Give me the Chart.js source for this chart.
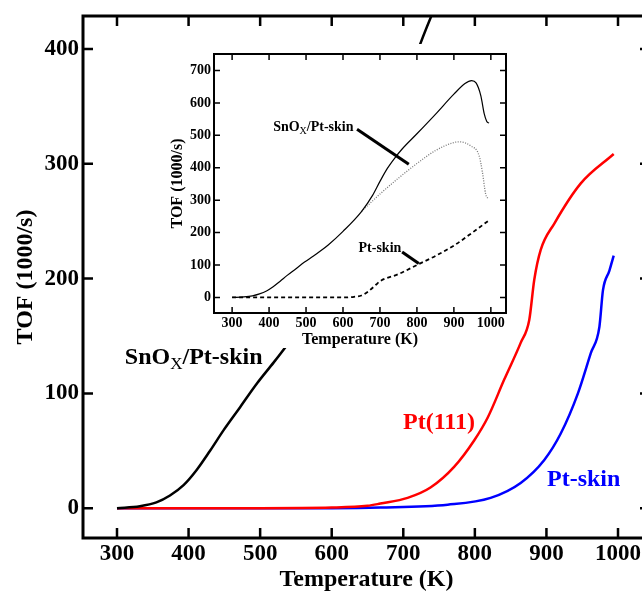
<!DOCTYPE html>
<html>
<head>
<meta charset="utf-8">
<script src="https://cdn.jsdelivr.net/npm/chart.js@4"></script>
<style>
  html, body { margin: 0; padding: 0; background: #fff; overflow: hidden; }
  #wrap { position: relative; width: 642px; height: 593px; overflow: hidden; }
  #main { position: absolute; left: 0; top: 0; }
  #inset { position: absolute; left: 170px; top: 44px; }
</style>
</head>
<body>
<div id="wrap">
  <canvas id="main" width="660" height="593"></canvas>
  <canvas id="inset" width="340" height="304"></canvas>
</div>
<script>
// SnOx/Pt-skin (black, main + solid inset curve)
const snoxTemp = [300, 332, 355, 374, 393, 411, 430, 449, 472, 496, 519, 535, 560, 600, 650, 680, 700, 720, 740, 760, 800, 850, 900, 930, 948, 960, 973, 982, 989, 995];
const snoxTof  = [0, 1.7, 5, 11, 20, 33, 50, 68, 88, 109, 127, 140, 162, 204, 265, 315, 358, 398, 430, 458, 505, 565, 627, 660, 669, 662, 622, 567, 543, 538];

// Pt(111) (red, main)
const pt111Temp = [300, 400, 500, 600, 650, 668, 706, 738, 771, 799, 818, 841, 864, 876, 883, 892, 911, 948, 994];
const pt111Tof  = [0, 0, 0, 0.5, 2, 4, 9, 18, 36, 59, 79, 112, 144, 164, 199, 225, 248, 283, 308.6];

// Pt-skin (blue, main)
const ptskinTemp = [300, 500, 600, 668, 762, 822, 864, 897, 920, 944, 962, 974, 979, 988, 994];
const ptskinTof  = [0, 0, 0, 0.5, 3, 9, 22, 42, 65, 100, 135, 158, 190, 207, 220];

// inset: dotted curve (second SnOx curve)
const dotTemp = [650, 700, 750, 800, 850, 900, 915, 945, 968, 977, 986, 992];
const dotTof  = [265, 319, 368, 413, 453, 478, 480, 468, 438, 388, 319, 305];

// inset: dashed Pt-skin
const dashTemp = [300, 400, 500, 600, 630, 650, 670, 690, 700, 750, 800, 850, 900, 950, 995];
const dashTof  = [0, 0, 0, 0, 2, 6, 20, 40, 50, 72, 100, 128, 160, 200, 238];

const mainXTicks  = [300, 400, 500, 600, 700, 800, 900, 1000];
const mainYTicks  = [0, 100, 200, 300, 400];
const insetXTicks = [300, 400, 500, 600, 700, 800, 900, 1000];
const insetYTicks = [0, 100, 200, 300, 400, 500, 600, 700];

const FONT = '"Liberation Serif", "DejaVu Serif", serif';

function pts(xs, ys) {
  return xs.map((x, i) => ({ x: x, y: ys[i] }));
}

// frame + inward ticks on all four sides
function frameTicks(len, tickW, frameW) {
  return {
    id: 'frameTicks',
    afterDraw(chart) {
      const { ctx, chartArea: a, scales: { x, y } } = chart;
      ctx.save();
      ctx.strokeStyle = '#000';
      ctx.lineWidth = tickW;
      ctx.beginPath();
      x.ticks.forEach(t => {
        const px = x.getPixelForValue(t.value);
        ctx.moveTo(px, a.bottom); ctx.lineTo(px, a.bottom - len);
        ctx.moveTo(px, a.top); ctx.lineTo(px, a.top + len);
      });
      y.ticks.forEach(t => {
        const py = y.getPixelForValue(t.value);
        ctx.moveTo(a.left, py); ctx.lineTo(a.left + len, py);
        ctx.moveTo(a.right, py); ctx.lineTo(a.right - len, py);
      });
      ctx.stroke();
      ctx.lineWidth = frameW;
      ctx.strokeRect(a.left, a.top, a.right - a.left, a.bottom - a.top);
      ctx.restore();
    }
  };
}

// text labels (with subscript parts) and pointer lines, placed in data units
function labels(items, pointers) {
  return {
    id: 'labels',
    afterDraw(chart) {
      const { ctx, scales: { x, y } } = chart;
      ctx.save();
      ctx.textBaseline = 'alphabetic';
      ctx.textAlign = 'left';
      items.forEach(it => {
        let px = x.getPixelForValue(it.x);
        const py = y.getPixelForValue(it.y);
        ctx.fillStyle = it.color;
        it.parts.forEach(([t, sub]) => {
          const size = sub ? Math.round(it.size * 0.7) : it.size;
          ctx.font = (sub ? '' : 'bold ') + size + 'px ' + FONT;
          ctx.fillText(t, px, sub ? py + it.size * 0.2 : py);
          px += ctx.measureText(t).width;
        });
      });
      ctx.strokeStyle = '#000';
      (pointers || []).forEach(p => {
        ctx.lineWidth = p.w;
        ctx.beginPath();
        ctx.moveTo(x.getPixelForValue(p.x1), y.getPixelForValue(p.y1));
        ctx.lineTo(x.getPixelForValue(p.x2), y.getPixelForValue(p.y2));
        ctx.stroke();
      });
      ctx.restore();
    }
  };
}

const whiteBg = {
  id: 'whiteBg',
  beforeDraw(chart) {
    const ctx = chart.ctx;
    ctx.save();
    ctx.fillStyle = '#fff';
    ctx.fillRect(0, 0, chart.width, chart.height);
    ctx.restore();
  }
};

function axisFont(size) {
  return { family: FONT, size: size, weight: 'bold', lineHeight: 1 };
}

const plain = v => String(v);

// ---------- main chart ----------
new Chart(document.getElementById('main'), {
  type: 'line',
  data: {
    datasets: [
      { label: 'SnOx/Pt-skin', data: pts(snoxTemp, snoxTof), borderColor: '#000', borderWidth: 2.5, pointRadius: 0, cubicInterpolationMode: 'monotone' },
      { label: 'Pt(111)', data: pts(pt111Temp, pt111Tof), borderColor: '#ff0000', borderWidth: 2.5, pointRadius: 0, cubicInterpolationMode: 'monotone' },
      { label: 'Pt-skin', data: pts(ptskinTemp, ptskinTof), borderColor: '#0000ff', borderWidth: 2.5, pointRadius: 0, cubicInterpolationMode: 'monotone' }
    ]
  },
  options: {
    responsive: false,
    animation: false,
    devicePixelRatio: 1,
    layout: { padding: { top: 16, right: 10, left: 0, bottom: 0 } },
    plugins: { legend: { display: false }, tooltip: { enabled: false } },
    scales: {
      x: {
        type: 'linear', min: 252.5, max: 1044.7,
        afterBuildTicks: s => { s.ticks = mainXTicks.map(v => ({ value: v })); },
        afterFit: s => { s.height = 55; },
        grid: { display: false, drawTicks: false }, border: { display: false },
        ticks: { font: axisFont(23), color: '#000', padding: 5, maxRotation: 0, callback: plain },
        title: { display: true, text: 'Temperature (K)', font: axisFont(24), color: '#000', padding: { top: 0, bottom: 1 } }
      },
      y: {
        type: 'linear', min: -26, max: 428.8,
        afterBuildTicks: s => { s.ticks = mainYTicks.map(v => ({ value: v })); },
        afterFit: s => { s.width = 83; },
        grid: { display: false, drawTicks: false }, border: { display: false },
        ticks: { font: axisFont(23), color: '#000', padding: 4, callback: plain },
        title: { display: true, text: 'TOF (1000/s)', font: axisFont(24), color: '#000', padding: { top: 14, bottom: 0 } }
      }
    }
  },
  plugins: [
    frameTicks(10, 2.5, 3),
    labels([
      { x: 311, y: 125.5, size: 24, color: '#000', parts: [['SnO', false], ['X', true], ['/Pt-skin', false]] },
      { x: 699.6, y: 68.8, size: 24, color: '#ff0000', parts: [['Pt(111)', false]] },
      { x: 900.8, y: 19.2, size: 24, color: '#0000ff', parts: [['Pt-skin', false]] }
    ])
  ]
});

// ---------- inset chart ----------
new Chart(document.getElementById('inset'), {
  type: 'line',
  data: {
    datasets: [
      { label: 'SnOx/Pt-skin', data: pts(snoxTemp, snoxTof), borderColor: '#000', borderWidth: 1.2, pointRadius: 0, cubicInterpolationMode: 'monotone' },
      { label: 'SnOx/Pt-skin (dotted)', data: pts(dotTemp, dotTof), borderColor: '#777', borderWidth: 1.3, borderDash: [1, 1.5], pointRadius: 0, cubicInterpolationMode: 'monotone' },
      { label: 'Pt-skin', data: pts(dashTemp, dashTof), borderColor: '#000', borderWidth: 1.8, borderDash: [4, 3], pointRadius: 0, cubicInterpolationMode: 'monotone' }
    ]
  },
  options: {
    responsive: false,
    animation: false,
    devicePixelRatio: 1,
    layout: { padding: { top: 1, right: 4, left: 0, bottom: 0 } },
    plugins: { legend: { display: false }, tooltip: { enabled: false } },
    scales: {
      x: {
        type: 'linear', min: 251, max: 1041,
        afterBuildTicks: s => { s.ticks = insetXTicks.map(v => ({ value: v })); },
        afterFit: s => { s.height = 35; },
        grid: { display: false, drawTicks: false }, border: { display: false },
        ticks: { font: axisFont(14), color: '#000', padding: 3, maxRotation: 0, callback: plain },
        title: { display: true, text: 'Temperature (K)', font: axisFont(16), color: '#000', padding: { top: 0, bottom: 0 } }
      },
      y: {
        type: 'linear', min: -48, max: 751,
        afterBuildTicks: s => { s.ticks = insetYTicks.map(v => ({ value: v })); },
        afterFit: s => { s.width = 44; },
        grid: { display: false, drawTicks: false }, border: { display: false },
        ticks: { font: axisFont(14), color: '#000', padding: 3, callback: plain },
        title: { display: true, text: 'TOF (1000/s)', font: axisFont(16), color: '#000', padding: { top: 0, bottom: 0 } }
      }
    }
  },
  plugins: [
    whiteBg,
    frameTicks(6, 1.5, 2),
    labels([
      { x: 411, y: 512, size: 14, color: '#000', parts: [['SnO', false], ['X', true], ['/Pt-skin', false]] },
      { x: 642, y: 140, size: 14, color: '#000', parts: [['Pt-skin', false]] }
    ], [
      { x1: 638, y1: 519, x2: 778, y2: 411, w: 3 },
      { x1: 760, y1: 140, x2: 805, y2: 105, w: 3 }
    ])
  ]
});
</script>
</body>
</html>
